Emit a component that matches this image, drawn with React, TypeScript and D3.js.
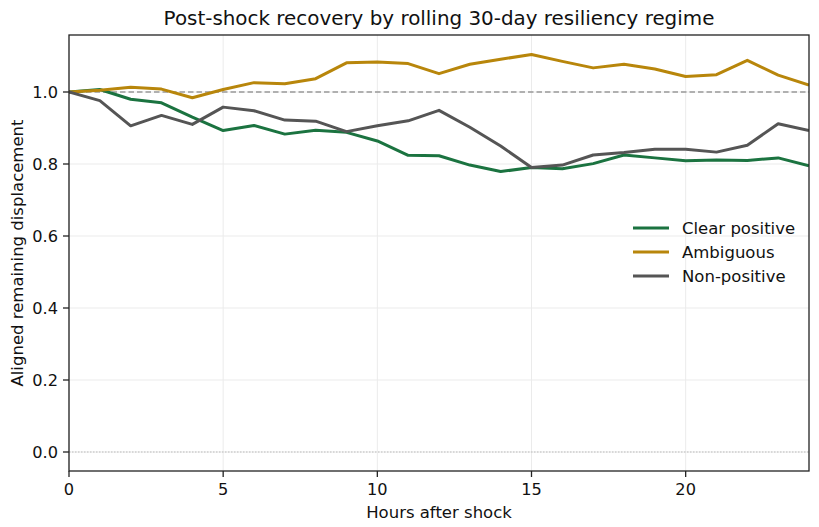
import React from "react";
import * as d3 from "d3";

const hours = d3.range(0, 25);
const clearPositive = [1.0, 1.007, 0.98, 0.97, 0.93, 0.893, 0.907, 0.883, 0.894, 0.888, 0.864, 0.824, 0.823, 0.797, 0.779, 0.79, 0.787, 0.801, 0.825, 0.817, 0.809, 0.811, 0.81, 0.817, 0.795];
const ambiguous = [1.0, 1.005, 1.013, 1.008, 0.984, 1.007, 1.026, 1.023, 1.037, 1.081, 1.083, 1.079, 1.051, 1.077, 1.091, 1.104, 1.085, 1.067, 1.077, 1.064, 1.043, 1.048, 1.088, 1.047, 1.019];
const nonPositive = [1.0, 0.976, 0.906, 0.935, 0.91, 0.958, 0.948, 0.922, 0.919, 0.89, 0.906, 0.92, 0.949, 0.902, 0.85, 0.79, 0.797, 0.825, 0.832, 0.841, 0.841, 0.833, 0.852, 0.912, 0.893];
const seriesNames = ["Clear positive", "Ambiguous", "Non-positive"];
const seriesColors = ["#1b7340", "#b8860b", "#555555"];
const xTicks = [0, 5, 10, 15, 20];
const yTicks = [0.0, 0.2, 0.4, 0.6, 0.8, 1.0];

const W = 819, H = 527;
const L = 69, R = 809, T = 35, B = 471;
const FONT = "DejaVu Sans, sans-serif";
const FS = 16.2;

export default function App() {
  const x = d3.scaleLinear().domain([0, 24]).range([L, R]);
  const y = d3.scaleLinear().domain([0, 1]).range([452, 92]);
  const data = [clearPositive, ambiguous, nonPositive];
  const line = d3.line<number>().x((_, i) => x(hours[i])).y((d) => y(d));
  return (
    <svg width={W} height={H} style={{ position: "absolute", left: 0, top: 0, background: "#fff" }} fontFamily={FONT}>
      <defs>
        <clipPath id="plot"><rect x={L} y={T} width={R - L} height={B - T} /></clipPath>
      </defs>
      {xTicks.map((t) => (
        <line key={"gx" + t} x1={x(t)} x2={x(t)} y1={T} y2={B} stroke="#ebebeb" strokeWidth={1} />
      ))}
      {yTicks.map((t) => (
        <line key={"gy" + t} x1={L} x2={R} y1={y(t)} y2={y(t)} stroke="#ebebeb" strokeWidth={1} />
      ))}
      <line x1={L} x2={R} y1={y(1)} y2={y(1)} stroke="#999" strokeWidth={1.4} strokeDasharray="5.5,3" />
      <line x1={L} x2={R} y1={y(0)} y2={y(0)} stroke="#bbb" strokeWidth={1} strokeDasharray="1.5,1.5" />
      <g clipPath="url(#plot)">
        {data.map((d, i) => (
          <path key={i} d={line(d) || ""} fill="none" stroke={seriesColors[i]} strokeWidth={3} strokeLinejoin="round" />
        ))}
      </g>
      <rect x={L} y={T} width={R - L} height={B - T} fill="none" stroke="#222" strokeWidth={1.3} />
      {xTicks.map((t) => (
        <g key={"tx" + t}>
          <line x1={x(t)} x2={x(t)} y1={B} y2={B + 6} stroke="#222" strokeWidth={1.3} />
          <text x={x(t)} y={B + 24} textAnchor="middle" fontSize={FS} fill="#111">{t}</text>
        </g>
      ))}
      {yTicks.map((t) => (
        <g key={"ty" + t}>
          <line x1={L - 6} x2={L} y1={y(t)} y2={y(t)} stroke="#222" strokeWidth={1.3} />
          <text x={L - 11} y={y(t) + 6} textAnchor="end" fontSize={FS} fill="#111">{t.toFixed(1)}</text>
        </g>
      ))}
      <text x={(L + R) / 2} y={518} textAnchor="middle" fontSize={16.5} fill="#111">Hours after shock</text>
      <text transform={`translate(23,${(T + B) / 2}) rotate(-90)`} textAnchor="middle" fontSize={16.5} fill="#111">Aligned remaining displacement</text>
      <text x={(L + R) / 2} y={25} textAnchor="middle" fontSize={19.9} fill="#111">Post-shock recovery by rolling 30-day resiliency regime</text>
      {seriesNames.map((n, i) => (
        <g key={n}>
          <line x1={633} x2={669} y1={228 + i * 24} y2={228 + i * 24} stroke={seriesColors[i]} strokeWidth={3} />
          <text x={682} y={228 + i * 24 + 6} fontSize={16.5} fill="#111">{n}</text>
        </g>
      ))}
    </svg>
  );
}
